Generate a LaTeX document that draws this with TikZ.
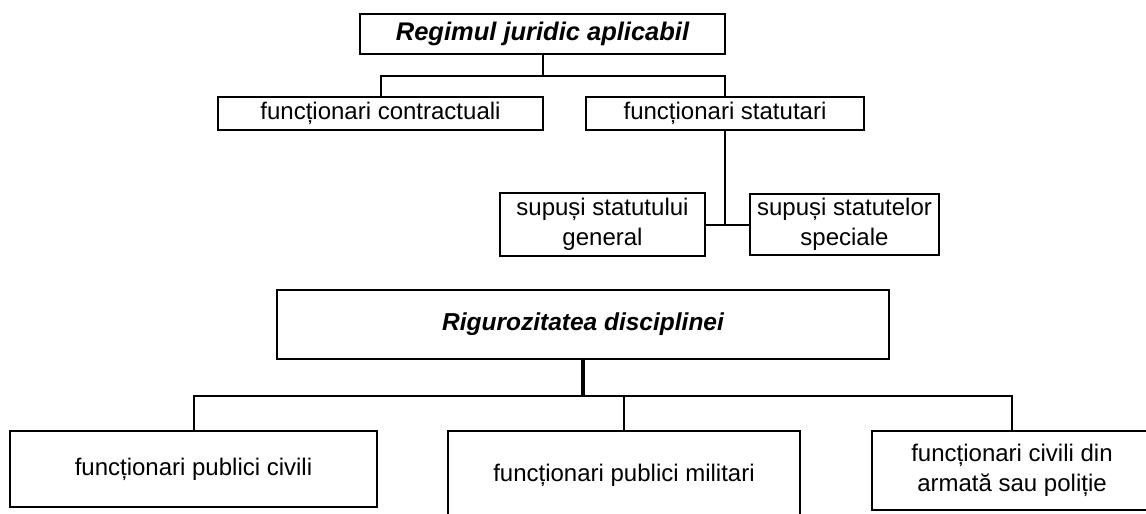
\documentclass[tikz,border=0pt]{standalone}
\usepackage{fontspec}
\setmainfont{Liberation Sans}
\usepackage{tikz}
\usetikzlibrary{calc,positioning}

\begin{document}
\begin{tikzpicture}[x=1pt,y=-1pt,
  box/.style={draw,line width=2pt,inner sep=0pt,align=center,font=\fontsize{24}{30}\selectfont},
  link/.style={line width=2pt},
  boldlink/.style={line width=3.6pt}]
\useasboundingbox (0,0) rectangle (1146,514);
\clip (0,0) rectangle (1146,514);
% primul arbore
\node[box,minimum width=365pt,minimum height=40pt,font=\fontsize{25.5}{30}\selectfont\bfseries\itshape] (regim) at (542.5,34) {Regimul juridic aplicabil};
\node[box,minimum width=325pt,minimum height=33pt] (contr) at (380.5,113.5) {funcționari contractuali};
\node[box,minimum width=278pt,minimum height=33pt] (stat) at (725,113.5) {funcționari statutari};
\node[box,minimum width=205pt,minimum height=63pt] (gen) at (602.5,224.5) {supuși statutului\\general};
\node[box,minimum width=189pt,minimum height=61pt] (spec) at (844.5,224.5) {supuși statutelor\\speciale};
\coordinate (busA) at (542.5,76);
\draw[link] (regim.south) -- (busA);
\draw[link] (contr.north) |- (busA) -| (stat.north);
\draw[link] (stat.south) -- (stat.south |- gen.east);
\draw[link] (gen.east) -- (spec.west);
% al doilea arbore
\node[box,minimum width=612pt,minimum height=69pt,font=\fontsize{24.5}{30}\selectfont\bfseries\itshape] (rig) at (583,324.5) {Rigurozitatea disciplinei};
\node[box,minimum width=367pt,minimum height=76pt] (civ) at (193.5,469) {funcționari publici civili};
\node[box,minimum width=352pt,minimum height=88pt] (mil) at (624,475) {funcționari publici militari};
\node[box,minimum width=280pt,minimum height=79pt] (arm) at (1012,470.5) {funcționari civili din\\armată sau poliție};
\coordinate (busB) at (585,396);
\draw[boldlink] (rig.south) -- (rig.south |- busB);
\draw[link] (civ.north) |- (busB) -| (arm.north);
\draw[link] (mil.north) -- (mil.north |- busB);
\end{tikzpicture}
\end{document}
